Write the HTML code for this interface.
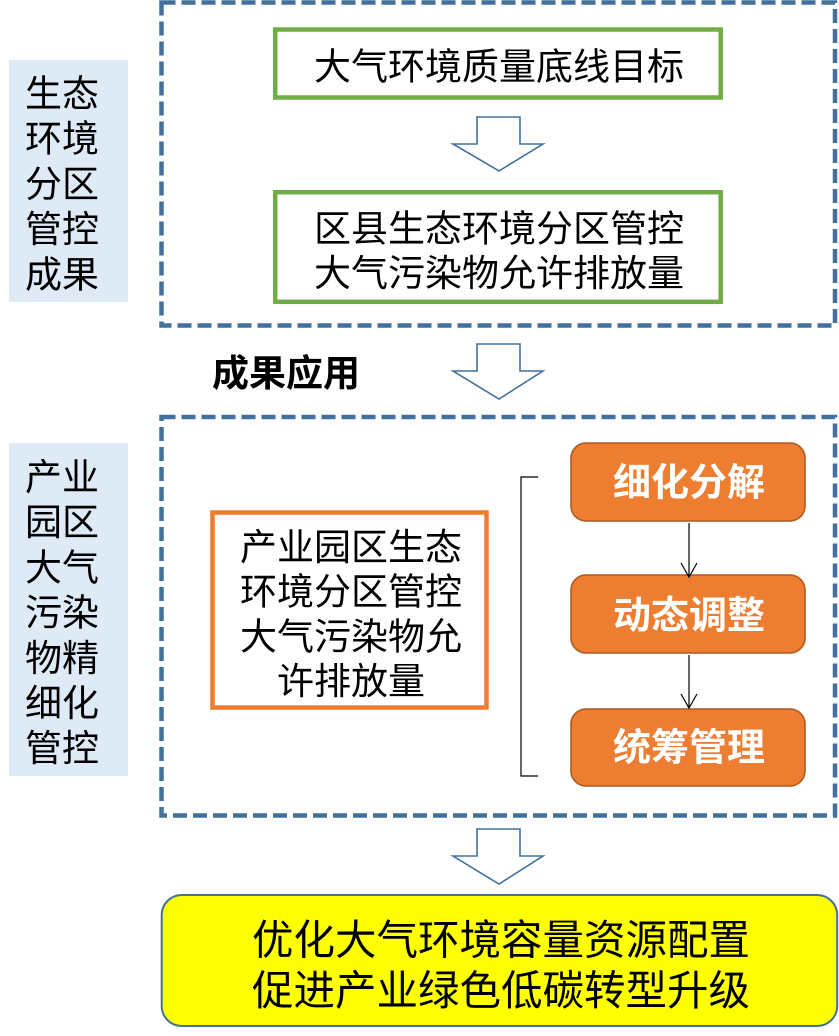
<!DOCTYPE html>
<html>
<head>
<meta charset="utf-8">
<style>
html,body{margin:0;padding:0;background:#fff;}
body{width:839px;height:1036px;overflow:hidden;}
svg{display:block;}
text{font-family:"Liberation Sans","Noto Sans CJK SC",sans-serif;fill:#000;}
.b{font-weight:bold;}
.w{fill:#fff;}
</style>
</head>
<body>
<svg width="839" height="1036" viewBox="0 0 839 1036" xmlns="http://www.w3.org/2000/svg">
  <!-- left label boxes -->
  <rect x="9" y="60" width="119" height="242" fill="#DEEBF7"/>
  <rect x="9" y="443" width="119" height="333" fill="#DEEBF7"/>

  <!-- dashed boxes -->
  <rect x="161.5" y="2.5" width="673.5" height="323" fill="none" stroke="#41719C" stroke-width="4.5" stroke-dasharray="14 6"/>
  <rect x="161.5" y="417" width="673.5" height="398.5" fill="none" stroke="#41719C" stroke-width="4.5" stroke-dasharray="14 6"/>

  <!-- green boxes -->
  <rect x="275.2" y="29.5" width="445.5" height="68" fill="#fff" stroke="#70AD47" stroke-width="4.5"/>
  <rect x="275.2" y="192.2" width="445.5" height="109.6" fill="#fff" stroke="#70AD47" stroke-width="4.5"/>

  <!-- hollow arrows -->
  <polygon points="477,117 520,117 520,144 543,144 499,171 453,144 477,144" fill="#fff" stroke="#41719C" stroke-width="1.6"/>
  <polygon points="477,344 520,344 520,371 543,371 499,399 453,371 477,371" fill="#fff" stroke="#41719C" stroke-width="1.6"/>
  <polygon points="477,829 520,829 520,856 543,856 499,884 453,856 477,856" fill="#fff" stroke="#41719C" stroke-width="1.6"/>

  <!-- orange box -->
  <rect x="212.5" y="512.5" width="274" height="195" fill="#fff" stroke="#ED7D31" stroke-width="4.5"/>

  <!-- bracket -->
  <path d="M538,477 H521 V776 H538" fill="none" stroke="#000" stroke-width="1.2"/>

  <!-- orange rounded boxes -->
  <rect x="571" y="443" width="234" height="78" rx="15" fill="#ED7D31" stroke="#AE5A21" stroke-width="1.6"/>
  <rect x="571" y="575" width="234" height="78" rx="15" fill="#ED7D31" stroke="#AE5A21" stroke-width="1.6"/>
  <rect x="571" y="709" width="234" height="77" rx="15" fill="#ED7D31" stroke="#AE5A21" stroke-width="1.6"/>

  <!-- thin arrows -->
  <line x1="689" y1="523" x2="689" y2="576" stroke="#000" stroke-width="1.2"/>
  <polyline points="681,563 689,577 697,563" fill="none" stroke="#000" stroke-width="1.2"/>
  <line x1="689" y1="655" x2="689" y2="707" stroke="#000" stroke-width="1.2"/>
  <polyline points="681,694 689,708 697,694" fill="none" stroke="#000" stroke-width="1.2"/>

  <!-- yellow box -->
  <rect x="161.7" y="895" width="675.5" height="131" rx="20" fill="#FFFF00" stroke="#41719C" stroke-width="2"/>

  <!-- left label 1 -->
  <g font-size="37">
    <text x="25" y="106.5">生态</text>
    <text x="25" y="151.7">环境</text>
    <text x="25" y="196.9">分区</text>
    <text x="25" y="242.1">管控</text>
    <text x="25" y="287.3">成果</text>
  </g>

  <!-- left label 2 -->
  <g font-size="37">
    <text x="25" y="490">产业</text>
    <text x="25" y="535.2">园区</text>
    <text x="25" y="580.4">大气</text>
    <text x="25" y="625.6">污染</text>
    <text x="25" y="670.8">物精</text>
    <text x="25" y="716">细化</text>
    <text x="25" y="761.2">管控</text>
  </g>

  <!-- green box texts -->
  <g font-size="37" text-anchor="middle">
    <text x="499" y="79.5">大气环境质量底线目标</text>
    <text x="499" y="241.5">区县生态环境分区管控</text>
    <text x="499" y="286">大气污染物允许排放量</text>
  </g>

  <!-- 成果应用 -->
  <text x="212" y="386" font-size="37" class="b">成果应用</text>

  <!-- orange box text -->
  <g font-size="37" text-anchor="middle">
    <text x="351" y="560">产业园区生态</text>
    <text x="351" y="604.7">环境分区管控</text>
    <text x="351" y="649.3">大气污染物允</text>
    <text x="351" y="694">许排放量</text>
  </g>

  <!-- orange rounded box texts -->
  <g font-size="38" text-anchor="middle" class="b">
    <text x="689" y="495.5" class="w b">细化分解</text>
    <text x="689" y="628.5" class="w b">动态调整</text>
    <text x="689" y="760.5" class="w b">统筹管理</text>
  </g>

  <!-- yellow box text -->
  <g font-size="41.5" text-anchor="middle">
    <text x="501" y="954.5">优化大气环境容量资源配置</text>
    <text x="501" y="1005">促进产业绿色低碳转型升级</text>
  </g>
</svg>
</body>
</html>
